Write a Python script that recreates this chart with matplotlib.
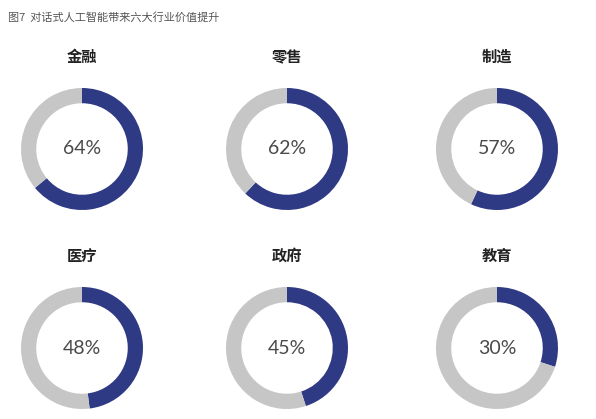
import matplotlib
matplotlib.use("Agg")
import matplotlib.pyplot as plt

plt.rcParams['font.family'] = ['Noto Sans CJK SC', 'DejaVu Sans']

caption = "图7  对话式人工智能带来六大行业价值提升"
industries = ["金融", "零售", "制造", "医疗", "政府", "教育"]
values = [64, 62, 57, 48, 45, 30]

NAVY = "#2f3a85"
GREY = "#c6c6c6"

W, H = 596, 419
fig = plt.figure(figsize=(W / 100, H / 100), dpi=100)
fig.patch.set_facecolor("white")

# donut centres in pixels (from top-left)
col_x = [82, 287, 497]
row_y = [149, 348]
R = 61

fig.text(8 / W, 1 - 17 / H, caption, fontsize=8, color="#555555", va="center", ha="left")

for i, (name, v) in enumerate(zip(industries, values)):
    cx = col_x[i % 3]
    cy = row_y[i // 3]
    ax = fig.add_axes([(cx - R) / W, 1 - (cy + R) / H, 2 * R / W, 2 * R / H])
    ax.pie([v, 100 - v], colors=[NAVY, GREY], startangle=90, counterclock=False,
           radius=1, wedgeprops=dict(width=0.25, edgecolor="none"))
    ax.set_xlim(-1, 1)
    ax.set_ylim(-1, 1)
    ax.text(0, 0, f"{v}%", ha="center", va="center", fontsize=14,
            family=["Lato", "DejaVu Sans"], color="#4a4a4a")
    ax.axis("off")
    fig.text(cx / W, 1 - (cy - 92) / H, name, ha="center", va="center",
             fontsize=11, fontweight="bold", color="#222222")

fig.savefig("out.png", dpi=100)
